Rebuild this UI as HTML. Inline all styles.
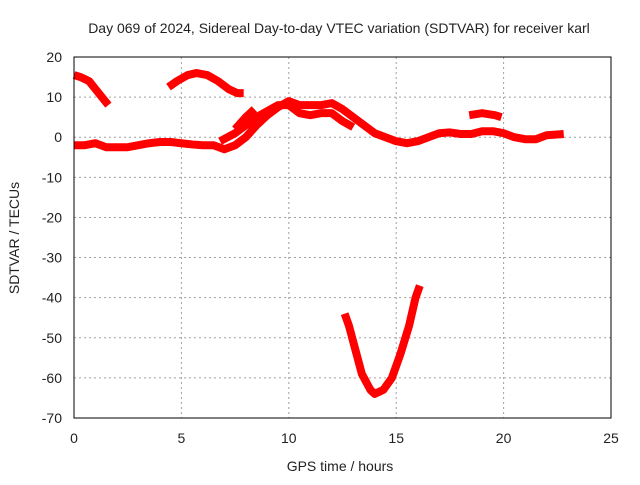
<!DOCTYPE html>
<html><head><meta charset="utf-8"><style>
body{margin:0;background:#fff}
text{font-family:"Liberation Sans",sans-serif;font-size:14px;fill:#222}
</style></head><body>
<svg id="c" width="640" height="480"></svg>
<script>
const xTicks=[0,5,10,15,20,25];
const yTicks=[20,10,0,-10,-20,-30,-40,-50,-60,-70];
const seriesA=[[0,15.5],[0.3,15],[0.7,14],[1.0,12],[1.3,10],[1.6,8]];
const seriesB=[[4.4,12.5],[4.8,14],[5.3,15.5],[5.7,16],[6.2,15.5],[6.7,14],[7.2,12],[7.6,11],[7.9,11]];
const seriesC=[[0,-2],[0.5,-2],[1,-1.5],[1.5,-2.5],[2,-2.5],[2.5,-2.5],[3,-2],[3.5,-1.5],[4,-1.2],[4.5,-1.2],[5,-1.5],[5.5,-1.8],[6,-2],[6.5,-2],[7,-3],[7.5,-2],[8,0],[8.5,3],[9,5.5],[9.5,7.5],[10,9],[10.5,8],[11,8],[11.5,8],[12,8.5],[12.5,7],[13,5],[13.5,3],[14,1],[14.5,0],[15,-1],[15.5,-1.5],[16,-1],[16.5,0],[17,1],[17.5,1.2],[18,0.8],[18.5,0.8],[19,1.5],[19.5,1.5],[20,1],[20.5,0],[21,-0.5],[21.5,-0.5],[22,0.5],[22.8,0.8]];
const seriesC2=[[6.8,-1],[7.5,1],[8,3],[8.5,5],[9,6.5],[9.5,8],[10,8],[10.5,6],[11,5.5],[11.5,6],[12,6],[12.5,4],[13,2.5]];
const seriesC3=[[7.5,2],[8,5],[8.4,7]];
const seriesD=[[18.4,5.5],[19,6],[19.6,5.5],[19.9,5]];
const seriesE=[[12.6,-44],[12.8,-47],[13.1,-53],[13.4,-59],[13.8,-63],[14,-64],[14.4,-63],[14.8,-60],[15.2,-54],[15.6,-47],[15.9,-40],[16.1,-37]];
const allSeries=[seriesA,seriesB,seriesC,seriesC2,seriesC3,seriesD,seriesE];
const X0=74,X1=611,Y0=57,Y1=418;
const sx=v=>X0+(v-0)/(25-0)*(X1-X0);
const sy=v=>Y0+(20-v)/(20+70)*(Y1-Y0);
const svg=document.getElementById('c');
const NS='http://www.w3.org/2000/svg';
function mk(t,a){const e=document.createElementNS(NS,t);for(const k in a)e.setAttribute(k,a[k]);svg.appendChild(e);return e;}
let e;
xTicks.forEach(t=>{
 if(t>0&&t<25){e=mk('line',{x1:sx(t),x2:sx(t),y1:Y0,y2:Y1,stroke:'#a0a0a0','stroke-dasharray':'2,3'});
 }
 e=mk('text',{x:sx(t),y:443,'text-anchor':'middle'});e.textContent=t;
 
});
yTicks.forEach(t=>{
 if(t<20&&t>-70){e=mk('line',{x1:X0,x2:X1,y1:sy(t),y2:sy(t),stroke:'#a0a0a0','stroke-dasharray':'2,3'});
 }
 e=mk('text',{x:62,y:sy(t)+5,'text-anchor':'end'});e.textContent=t;
 
});
allSeries.forEach(s=>{
 e=mk('polyline',{points:s.map(p=>sx(p[0])+','+sy(p[1])).join(' '),fill:'none',stroke:'#ff0000','stroke-width':8,'stroke-linejoin':'round'});
 
});
e=mk('rect',{x:X0,y:Y0,width:X1-X0,height:Y1-Y0,fill:'none',stroke:'#000'});

e=mk('text',{x:339,y:33,'text-anchor':'middle'});e.textContent='Day 069 of 2024, Sidereal Day-to-day VTEC variation (SDTVAR) for receiver karl';

e=mk('text',{x:340,y:471,'text-anchor':'middle'});e.textContent='GPS time / hours';

e=mk('text',{x:19,y:238,'text-anchor':'middle',transform:'rotate(-90 19 238)'});e.textContent='SDTVAR / TECUs';

</script>
</body></html>
